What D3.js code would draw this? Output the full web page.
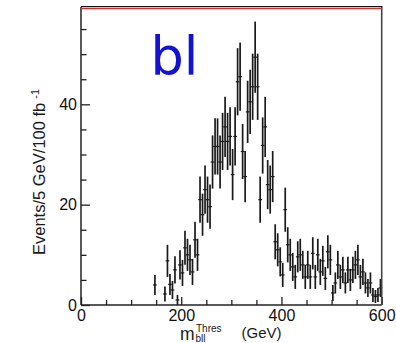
<!DOCTYPE html>
<html>
<head>
<meta charset="utf-8">
<script src="https://cdn.jsdelivr.net/npm/d3@7"></script>
<style>
  html, body { margin: 0; padding: 0; background: #fff; }
  svg { display: block; }
  text { font-family: Arial, "Liberation Sans", Helvetica, sans-serif; }
</style>
</head>
<body>
<svg id="chart" width="396" height="343"></svg>
<script>
// ---- data ----
const binCenters = [147.5,167.5,172.5,177.5,182.5,187.5,192.5,197.5,202.5,207.5,212.5,217.5,222.5,227.5,232.5,237.5,242.5,247.5,252.5,257.5,262.5,267.5,272.5,277.5,282.5,287.5,292.5,297.5,302.5,307.5,312.5,317.5,322.5,327.5,332.5,337.5,342.5,347.5,352.5,357.5,362.5,367.5,372.5,377.5,382.5,387.5,392.5,397.5,402.5,407.5,412.5,417.5,422.5,427.5,432.5,437.5,442.5,447.5,452.5,457.5,462.5,467.5,472.5,477.5,482.5,487.5,492.5,497.5,502.5,507.5,512.5,517.5,522.5,527.5,532.5,537.5,542.5,547.5,552.5,557.5,562.5,567.5,572.5,577.5,582.5,587.5,592.5,597.5];
const events = [4.0,2.2,8.8,4.1,3.0,7.0,1.0,8.0,6.4,11.4,10.0,9.0,6.6,13.0,10.0,21.0,18.0,23.0,21.0,19.6,28.5,31.6,31.6,28.5,32.6,35.5,32.6,33.6,26.0,33.6,44.5,45.5,30.6,25.6,38.5,40.5,43.5,49.4,43.5,21.0,31.8,35.5,24.0,23.0,25.6,12.6,11.0,8.6,6.0,19.0,12.0,10.0,7.6,5.6,9.6,10.0,8.0,5.6,8.0,5.6,10.3,5.6,10.0,6.6,8.8,5.3,10.6,9.0,2.4,4.4,8.0,5.6,7.0,4.4,7.0,5.0,7.0,8.0,9.0,5.6,6.6,4.4,3.4,4.4,2.0,1.7,2.0,3.4];
const errors = [2.0,1.5,3.2,2.1,1.8,2.7,1.0,2.9,2.6,3.4,3.2,3.0,2.6,3.6,3.2,4.6,4.2,4.8,4.6,4.4,5.3,5.6,5.6,5.3,5.7,6.0,5.7,5.8,5.1,5.8,6.7,6.8,5.5,5.1,6.2,6.4,6.6,7.1,6.6,4.6,5.6,6.0,4.9,4.8,5.1,3.5,3.3,2.9,2.4,4.4,3.5,3.2,2.8,2.4,3.1,3.2,2.8,2.4,2.8,2.4,3.2,2.4,3.2,2.6,3.0,2.3,3.3,3.0,1.6,2.1,2.8,2.4,2.6,2.1,2.6,2.2,2.6,2.8,3.0,2.4,2.6,2.1,1.8,2.1,1.4,1.3,1.4,1.8];
const binWidth = 5;
const xMajorTicks = [0, 200, 400, 600];
const xMinorTicks = [50,100,150,250,300,350,450,500,550];
const yMajorTicks = [0, 20, 40];
const yMinorTicks = [5,10,15,25,30,35,45,50,55];
const xDomain = [0, 600];
const yDomain = [0, 59.4];

// ---- layout ----
const svg = d3.select("#chart");
const L = 81, R = 381.7, T = 7, B = 305;
const x = d3.scaleLinear().domain(xDomain).range([L, R]);
const y = d3.scaleLinear().domain(yDomain).range([B, T]);

const pts = binCenters.map((c, i) => ({c, v: events[i], e: errors[i]}));

// data: error bars + bin markers
const g = svg.append("g").attr("stroke", "#1a1a1a");
g.selectAll("line.err").data(pts).join("line")
  .attr("class", "err")
  .attr("x1", d => x(d.c)).attr("x2", d => x(d.c))
  .attr("y1", d => y(Math.min(d.v + d.e, yDomain[1])))
  .attr("y2", d => y(Math.max(d.v - d.e, 0)))
  .attr("stroke-width", 1.7);
g.selectAll("line.bin").data(pts).join("line")
  .attr("class", "bin")
  .attr("x1", d => x(d.c - binWidth / 2) - 0.6)
  .attr("x2", d => x(d.c + binWidth / 2) + 0.6)
  .attr("y1", d => y(d.v)).attr("y2", d => y(d.v))
  .attr("stroke-width", 1.2);

// axes
function styleAxis(sel) {
  sel.select(".domain").remove();
  sel.selectAll(".tick line").attr("stroke", "#222").attr("stroke-width", 1.3);
  sel.selectAll(".tick text").attr("fill", "#111")
    .style("font-size", "16px")
    .style("font-family", "Arial, 'Liberation Sans', sans-serif");
}
svg.append("g").attr("transform", `translate(${L},0)`)
  .call(d3.axisLeft(y).tickValues(yMinorTicks).tickSize(-5.5).tickFormat(""))
  .call(styleAxis);
svg.append("g").attr("transform", `translate(${L},0)`)
  .call(d3.axisLeft(y).tickValues(yMajorTicks).tickSize(-9).tickPadding(4).tickFormat(d3.format("d")))
  .call(styleAxis);
svg.append("g").attr("transform", `translate(0,${B})`)
  .call(d3.axisBottom(x).tickValues(xMinorTicks).tickSize(-5).tickFormat(""))
  .call(styleAxis);
svg.append("g").attr("transform", `translate(0,${B})`)
  .call(d3.axisBottom(x).tickValues(xMajorTicks).tickSize(-8).tickPadding(4.5).tickFormat(d3.format("d")))
  .call(styleAxis);

// frame
svg.append("line").attr("x1", L).attr("x2", L).attr("y1", T).attr("y2", B)
  .attr("stroke", "#222").attr("stroke-width", 1.5);
svg.append("line").attr("x1", L).attr("x2", R).attr("y1", B).attr("y2", B)
  .attr("stroke", "#222").attr("stroke-width", 1.5);
svg.append("line").attr("x1", R).attr("x2", R).attr("y1", T).attr("y2", B)
  .attr("stroke", "#444").attr("stroke-width", 1.6);
svg.append("line").attr("x1", L).attr("x2", R + 0.8).attr("y1", T - 0.4).attr("y2", T - 0.4)
  .attr("stroke", "#111").attr("stroke-width", 1.2);
svg.append("line").attr("x1", L).attr("x2", R).attr("y1", T + 1.7).attr("y2", T + 1.7)
  .attr("stroke", "#d03030").attr("stroke-width", 1.3);

// y label
const yl = svg.append("text")
  .attr("transform", "translate(45,255) rotate(-90)")
  .attr("fill", "#1a1a1a").style("font-size", "16.5px");
yl.append("tspan").text("Events/5 GeV/100 fb");
yl.append("tspan").attr("dx", 4).attr("dy", -6).style("font-size", "11px").text("-1");

// x label
const xl = svg.append("g").attr("fill", "#1a1a1a");
xl.append("text").attr("x", 180).attr("y", 340).style("font-size", "17.5px").text("m");
xl.append("text").attr("x", 196).attr("y", 332).style("font-size", "10px").text("Thres");
xl.append("text").attr("x", 195.5).attr("y", 342).style("font-size", "10px").text("bll");
xl.append("text").attr("x", 241.5).attr("y", 338).style("font-size", "15px").text("(GeV)");

// "bl" tag
svg.append("text").attr("x", 150.5).attr("y", 75)
  .style("font-family", "'DejaVu Sans', sans-serif").style("font-size", "52.5px")
  .attr("fill", "#1212d4").text("bl");
</script>
</body>
</html>
